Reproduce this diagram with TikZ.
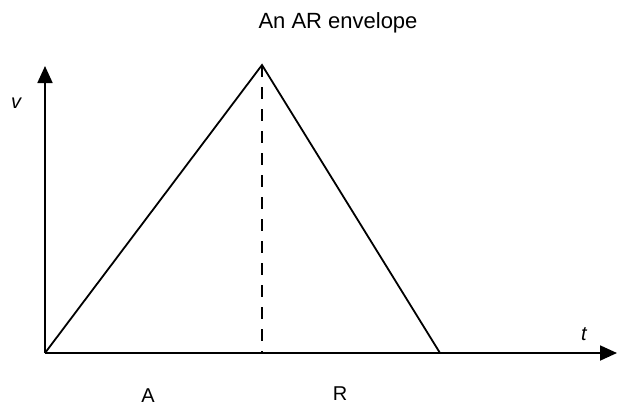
\documentclass[tikz,border=0pt]{standalone}
\usepackage{fontspec}
\setmainfont{Liberation Sans}
\usepackage{tikz}
\usetikzlibrary{arrows.meta, positioning}

\begin{document}
\begin{tikzpicture}[
        x=1pt, y=-1pt,
        axisline/.style={-{Triangle[length=17pt, width=15pt]}, line width=1.8pt, color=black},
        envline/.style={line width=1.8pt, color=black, line join=miter},
        guide/.style={line width=1.6pt, color=black, dash pattern=on 12pt off 10pt},
        lbl/.style={anchor=base, inner sep=0pt, font=\fontsize{20}{24}\selectfont}
    ]
        \useasboundingbox (0,0) rectangle (618,408);

        % Key points of the envelope
        \coordinate (origin) at (45, 353);
        \coordinate (peak) at (262, 65);
        \coordinate (rend) at (440, 353);
        \coordinate (pfoot) at (262, 353);
        \coordinate (vtop) at (45, 66);
        \coordinate (tend) at (617, 353);

        % Title
        \node[lbl, font=\fontsize{22}{26}\selectfont] (title) at (338, 28) {An AR envelope};

        % Axes
        \draw[axisline] (origin) -- (vtop);
        \draw[axisline] (origin) -- (tend);
        \node[lbl] (vlab) at (16, 108) {\itshape v};
        \node[lbl] (tlab) at (584, 340) {\itshape t};

        % Attack and release
        \draw[envline] (origin) -- (peak) -- (rend);
        \draw[guide] (peak) -- (pfoot);
        \node[lbl] (alab) at (148, 402) {A};
        \node[lbl] (rlab) at (340, 400) {R};
    \end{tikzpicture}
\end{document}
